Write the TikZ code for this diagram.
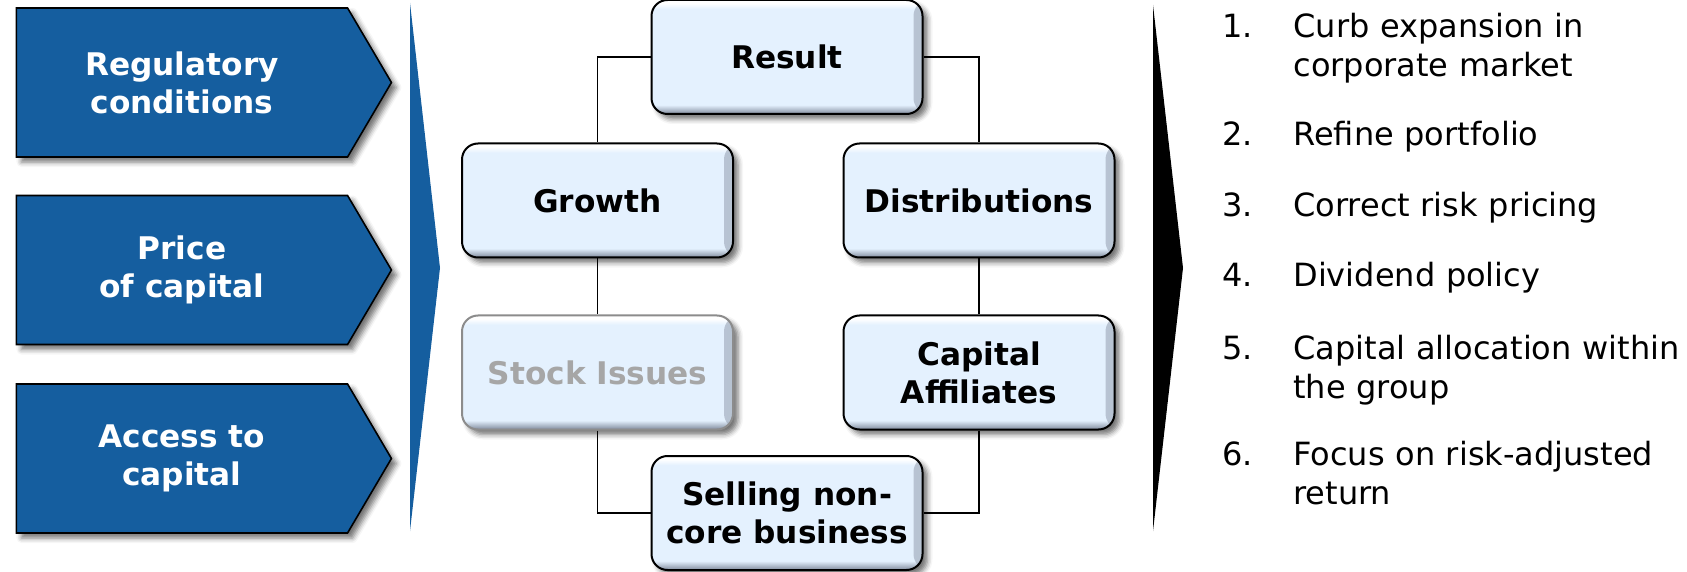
\documentclass[tikz,border=0pt]{standalone}
\usepackage{fontspec}
\setmainfont{DejaVu Sans}
\usetikzlibrary{positioning, shapes.symbols, shadows.blur}

\definecolor{capblue}{RGB}{21,94,159}
\definecolor{boxface}{RGB}{228,241,254}
\definecolor{boxbevel}{RGB}{128,138,156}
\definecolor{greytext}{RGB}{166,166,166}

% face of the rounded boxes: dark bevel at the bottom, light rim at the top
\pgfdeclareverticalshading{glossbox}{100bp}{color(0bp)=(boxbevel); color(25bp)=(boxbevel); color(29bp)=(boxface); color(71bp)=(boxface); color(73.5bp)=(white); color(75bp)=(white); color(100bp)=(white)}

\tikzset{
    softshadow/.style={blur shadow={shadow xshift=2.5pt, shadow yshift=-2.5pt, shadow blur radius=2.5pt, shadow opacity=55}},
    chevron/.style={signal, signal to=east, signal pointer angle=119, draw=black, line width=0.8pt, fill=capblue, text=white, font=\bfseries\fontsize{15.6}{19}\selectfont, align=center, minimum width=187.5pt, minimum height=74.5pt, inner sep=0pt, softshadow},
    capbox/.style={rectangle, rounded corners=8pt, draw=black, line width=1pt, shading=glossbox, minimum width=135.5pt, minimum height=57pt, inner sep=0pt, align=center, font=\bfseries\fontsize{15.6}{19}\selectfont, softshadow,
        path picture={\shade[left color=boxface, right color=boxbevel, opacity=0.45] ([xshift=-4.5pt]path picture bounding box.north east) rectangle (path picture bounding box.south east);}},
    dimbox/.style={capbox, draw=black!45, text=greytext},
    link/.style={line width=0.7pt},
    listnum/.style={anchor=base west, inner sep=0pt, font=\fontsize{16}{19.5}\selectfont},
    listtext/.style={listnum, text width=200pt, align=left}
}

\begin{document}
\begin{tikzpicture}[x=0.5pt, y=-0.5pt]
    \useasboundingbox (0,0) rectangle (1687,572);

        % ------------------
        % drivers
        % ------------------

        \node[chevron] (regulatory) at (182,82.5) {Regulatory\\conditions};
        \node[chevron] (price) at (182,270) {Price\\of capital};
        \node[chevron] (access) at (182,458.5) {Access to\\capital};

        \fill[capblue] (410,3) -- (440,268) -- (410,531) -- cycle;

        % ------------------
        % capital sources
        % ------------------

        \node[capbox] (result) at (787,57) {Result};
        \node[capbox] (growth) at (597.5,200.5) {Growth};
        \node[capbox] (distrib) at (979,200.5) {Distributions};
        \node[dimbox, below=28pt of growth] (stock) {Stock Issues};
        \node[capbox, below=28pt of distrib] (capaff) {Capital\\Affiliates};
        \node[capbox] (selling) at (787,513) {Selling non-\\core business};

        \draw[link] (result.west) -| (growth.north);
        \draw[link] (result.east) -| (distrib.north);
        \draw[link] (growth.south) -- (stock.north);
        \draw[link] (distrib.south) -- (capaff.north);
        \draw[link] (stock.south) |- (selling.west);
        \draw[link] (capaff.south) |- (selling.east);

        \fill[black] (1153,5) -- (1183,268) -- (1153,531) -- cycle;

        % ------------------
        % measures
        % ------------------

        \node[listnum] (num1) at (1222,38) {1.};
        \node[listtext] (item1) at (1293,38) {Curb expansion in\\corporate market};
        \node[listnum] (num2) at (1222,146) {2.};
        \node[listtext] (item2) at (1293,146) {Refine portfolio};
        \node[listnum] (num3) at (1222,217) {3.};
        \node[listtext] (item3) at (1293,217) {Correct risk pricing};
        \node[listnum] (num4) at (1222,287) {4.};
        \node[listtext] (item4) at (1293,287) {Dividend policy};
        \node[listnum] (num5) at (1222,359) {5.};
        \node[listtext] (item5) at (1293,359) {Capital allocation within\\the group};
        \node[listnum] (num6) at (1222,465) {6.};
        \node[listtext] (item6) at (1293,465) {Focus on risk-adjusted\\return};

\end{tikzpicture}
\end{document}
